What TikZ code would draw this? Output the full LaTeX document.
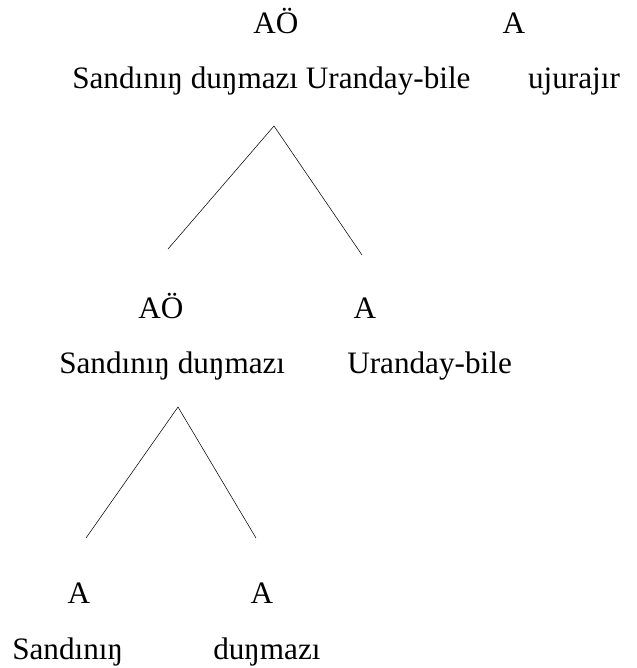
\documentclass[tikz,border=0pt]{standalone}
\usepackage{fontspec}
\setmainfont{Liberation Serif}
\usepackage{tikz}

\begin{document}
\begin{tikzpicture}[x=0.75pt,y=-0.75pt,
  lbl/.style={anchor=base,inner sep=0pt,font=\fontsize{23.4}{28}\selectfont}]
\useasboundingbox (0,0) rectangle (636,668);
\node[lbl] (aotop) at (276,33) {AÖ};
\node[lbl] (atop) at (514,33) {A};
\node[lbl,anchor=base west] (phrase) at (72,88) {Sandınıŋ duŋmazı Uranday-bile};
\node[lbl] (verb) at (574,88) {ujurajır};
\node[lbl] (aomid) at (161,318) {AÖ};
\node[lbl] (amid) at (365,318) {A};
\node[lbl,anchor=base west] (np) at (59,373) {Sandınıŋ duŋmazı};
\node[lbl,anchor=base west] (adv) at (347,373) {Uranday-bile};
\node[lbl] (aleft) at (79,603) {A};
\node[lbl] (aright) at (262,603) {A};
\node[lbl,anchor=base west] (noun) at (12,659) {Sandınıŋ};
\node[lbl,anchor=base west] (adj) at (213,659) {duŋmazı};
\coordinate (topapex) at (274,126);
\coordinate (topleft) at (168,249);
\coordinate (topright) at (362,255);
\coordinate (lowapex) at (178,407);
\coordinate (lowleft) at (86,538);
\coordinate (lowright) at (256,538);
\draw (topleft) -- (topapex) -- (topright);
\draw (lowleft) -- (lowapex) -- (lowright);
\end{tikzpicture}
\end{document}
